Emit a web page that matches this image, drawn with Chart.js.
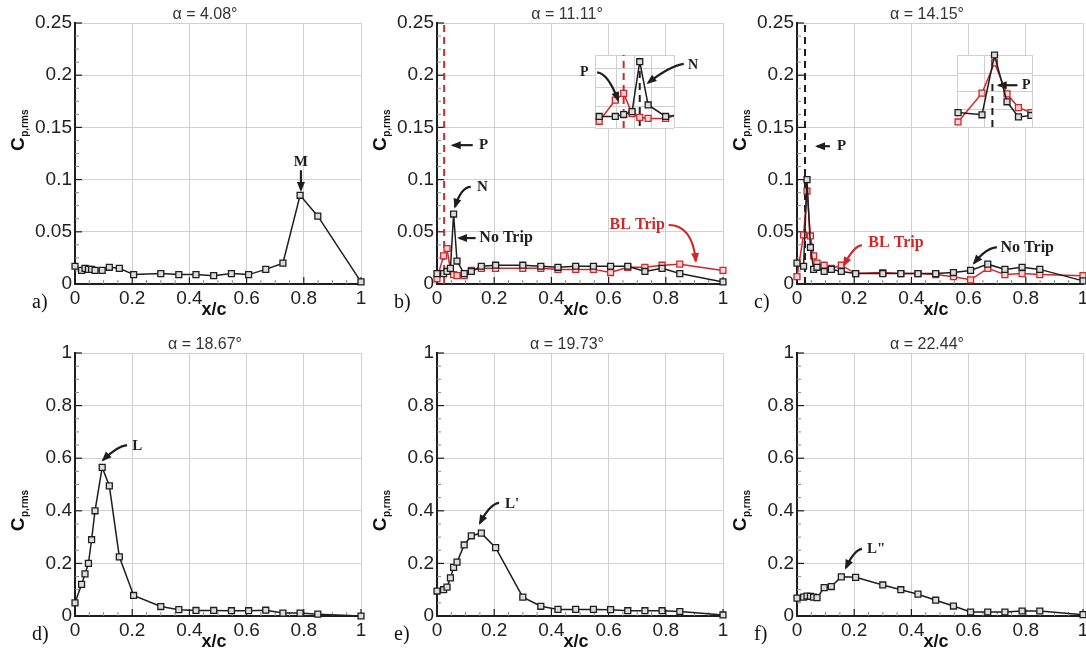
<!DOCTYPE html>
<html lang="en">
<head>
<meta charset="UTF-8">
<title>Cp,rms along the chord</title>
<script src="https://cdn.jsdelivr.net/npm/chart.js"></script>
<style>
  body { margin: 0; width: 1086px; height: 657px; overflow: hidden; background: #fff; position: relative; }
  canvas { position: absolute; }
</style>
</head>
<body>
<canvas id="pa"></canvas>
<canvas id="pb"></canvas>
<canvas id="pc"></canvas>
<canvas id="pd"></canvas>
<canvas id="pe"></canvas>
<canvas id="pf"></canvas>
<canvas id="ib"></canvas>
<canvas id="ic"></canvas>
<script>
// pressure tap positions x/c
const xTaps = [0, 0.023, 0.035, 0.047, 0.058, 0.07, 0.095, 0.12, 0.155, 0.205, 0.3, 0.363, 0.423, 0.485, 0.547, 0.607, 0.667, 0.727, 0.787, 0.849, 1.0];

// Cp,rms
const cpA       = [0.017, 0.013, 0.015, 0.014, 0.014, 0.013, 0.013, 0.016, 0.015, 0.009, 0.010, 0.009, 0.009, 0.008, 0.010, 0.009, 0.014, 0.020, 0.085, 0.065, 0.002];
const cpBNoTrip = [0.010, 0.010, 0.012, 0.015, 0.067, 0.022, 0.010, 0.012, 0.017, 0.018, 0.018, 0.017, 0.016, 0.017, 0.017, 0.017, 0.017, 0.012, 0.015, 0.010, 0.002];
const cpBTrip   = [0.005, 0.027, 0.034, 0.013, 0.009, 0.008, 0.008, 0.013, 0.015, 0.015, 0.015, 0.015, 0.014, 0.014, 0.014, 0.011, 0.016, 0.016, 0.018, 0.019, 0.013];
const cpCNoTrip = [0.020, 0.017, 0.100, 0.035, 0.014, 0.016, 0.012, 0.014, 0.012, 0.010, 0.010, 0.010, 0.010, 0.010, 0.011, 0.013, 0.019, 0.014, 0.016, 0.014, 0.003];
const cpCTrip   = [0.007, 0.047, 0.089, 0.046, 0.027, 0.020, 0.018, 0.015, 0.018, 0.010, 0.011, 0.010, 0.010, 0.009, 0.007, 0.004, 0.015, 0.009, 0.010, 0.009, 0.008];
const cpD       = [0.050, 0.120, 0.160, 0.200, 0.290, 0.400, 0.565, 0.495, 0.225, 0.078, 0.036, 0.024, 0.021, 0.021, 0.020, 0.020, 0.022, 0.011, 0.011, 0.007, 0.000];
const cpE       = [0.095, 0.100, 0.110, 0.145, 0.185, 0.205, 0.270, 0.305, 0.315, 0.260, 0.072, 0.037, 0.025, 0.025, 0.025, 0.024, 0.020, 0.020, 0.020, 0.017, 0.004];
const cpF       = [0.068, 0.072, 0.076, 0.075, 0.072, 0.070, 0.108, 0.112, 0.149, 0.147, 0.118, 0.100, 0.083, 0.060, 0.038, 0.015, 0.015, 0.015, 0.019, 0.019, 0.005];

const xTicks = [0, 0.2, 0.4, 0.6, 0.8, 1];
const yTicksTop = [0, 0.05, 0.1, 0.15, 0.2, 0.25];
const yTicksBottom = [0, 0.2, 0.4, 0.6, 0.8, 1];
const titles = ['α = 4.08°', 'α = 11.11°', 'α = 14.15°', 'α = 18.67°', 'α = 19.73°', 'α = 22.44°'];
const tags = ['a)', 'b)', 'c)', 'd)', 'e)', 'f)'];

const BLACK = '#1e1e1e';
const RED = '#d0282a';
const SANS = '"Liberation Sans", Arial, sans-serif';
const SERIF = '"Liberation Serif", "Times New Roman", serif';

const pts = ys => xTaps.map((x, i) => ({ x: x, y: ys[i] }));
const fmt = v => String(Math.round(v * 1000) / 1000);

function series(ys, color, fill) {
  return {
    data: pts(ys), borderColor: color, borderWidth: 1.5,
    pointStyle: 'rect', pointRadius: 4.2, pointBorderWidth: 1.3,
    pointBorderColor: color, pointBackgroundColor: fill, clip: 8
  };
}
function dashed(x, y0, y1, color) {
  return {
    data: [{ x: x, y: y0 }, { x: x, y: y1 }], borderColor: color, borderWidth: 2,
    borderDash: [7, 5], pointRadius: 0
  };
}

function arrow(ctx, p, color) {
  ctx.save();
  ctx.strokeStyle = color; ctx.fillStyle = color; ctx.lineWidth = 2.2;
  ctx.beginPath();
  ctx.moveTo(p[0][0], p[0][1]);
  if (p.length === 3) ctx.quadraticCurveTo(p[1][0], p[1][1], p[2][0], p[2][1]);
  else ctx.lineTo(p[1][0], p[1][1]);
  ctx.stroke();
  const a = p[p.length - 2], b = p[p.length - 1];
  const ang = Math.atan2(b[1] - a[1], b[0] - a[0]);
  const L = 8, W = 4;
  ctx.beginPath();
  ctx.moveTo(b[0] + 2 * Math.cos(ang), b[1] + 2 * Math.sin(ang));
  ctx.lineTo(b[0] - L * Math.cos(ang) + W * Math.sin(ang), b[1] - L * Math.sin(ang) - W * Math.cos(ang));
  ctx.lineTo(b[0] - L * Math.cos(ang) - W * Math.sin(ang), b[1] - L * Math.sin(ang) + W * Math.cos(ang));
  ctx.closePath();
  ctx.fill();
  ctx.restore();
}

function drawNotes(chart, notes) {
  const ctx = chart.ctx, xs = chart.scales.x, ys = chart.scales.y;
  const px = p => [xs.getPixelForValue(p[0]), ys.getPixelForValue(p[1])];
  notes.forEach(n => {
    if (n.path) arrow(ctx, n.path.map(px), n.color || BLACK);
    ctx.save();
    ctx.fillStyle = n.color || BLACK;
    ctx.font = 'bold ' + (n.size || 15) + 'px ' + SERIF;
    ctx.textAlign = n.align || 'left';
    ctx.textBaseline = 'middle';
    const p = px(n.at);
    ctx.fillText(n.text, p[0], p[1]);
    ctx.restore();
  });
}

function decoPlugin(cfg) {
  return {
    id: 'deco',
    beforeDatasetsDraw(chart) {
      const ctx = chart.ctx, a = chart.chartArea, xs = chart.scales.x, ys = chart.scales.y;
      ctx.save();
      const yt = cfg.yTicks;
      for (let i = 0; i < yt.length; i++) {
        const y = ys.getPixelForValue(yt[i]);
        ctx.strokeStyle = BLACK; ctx.lineWidth = 1.2;
        ctx.beginPath(); ctx.moveTo(a.left, y); ctx.lineTo(a.left + 7, y); ctx.stroke();
        if (i < yt.length - 1) {
          ctx.strokeStyle = '#8a8a8a'; ctx.lineWidth = 1;
          for (let k = 1; k < 4; k++) {
            const ym = ys.getPixelForValue(yt[i] + (yt[i + 1] - yt[i]) * k / 4);
            ctx.beginPath(); ctx.moveTo(a.left, ym); ctx.lineTo(a.left + 4, ym); ctx.stroke();
          }
        }
      }
      for (let i = 0; i < xTicks.length; i++) {
        const x = xs.getPixelForValue(xTicks[i]);
        ctx.strokeStyle = BLACK; ctx.lineWidth = 1.2;
        ctx.beginPath(); ctx.moveTo(x, a.bottom); ctx.lineTo(x, a.bottom - 7); ctx.stroke();
        if (i < xTicks.length - 1) {
          ctx.strokeStyle = '#8a8a8a'; ctx.lineWidth = 1;
          for (let k = 1; k < 4; k++) {
            const xm = xs.getPixelForValue(xTicks[i] + (xTicks[i + 1] - xTicks[i]) * k / 4);
            ctx.beginPath(); ctx.moveTo(xm, a.bottom); ctx.lineTo(xm, a.bottom - 4); ctx.stroke();
          }
        }
      }
      ctx.restore();
    },
    afterDraw(chart) {
      const ctx = chart.ctx, a = chart.chartArea, ys = chart.scales.y;
      const cx = (a.left + a.right) / 2;
      ctx.save();
      // title
      ctx.fillStyle = '#333';
      ctx.font = '16px ' + SANS;
      ctx.textAlign = 'center'; ctx.textBaseline = 'middle';
      ctx.fillText(cfg.title, cx - 13, a.top - 8);
      // x title
      ctx.fillStyle = '#111';
      ctx.font = 'bold 18px ' + SANS;
      ctx.fillText('x/c', cx - 4, a.bottom + 26);
      // panel tag
      ctx.font = '20px ' + SERIF;
      ctx.textAlign = 'left';
      ctx.fillText(cfg.tag, a.left - 43, a.bottom + 19);
      // y title C_p,rms
      ctx.translate(a.left - 57, ys.getPixelForValue(cfg.yTitleAt));
      ctx.rotate(-Math.PI / 2);
      ctx.font = 'bold 19px ' + SANS;
      const wC = ctx.measureText('C').width;
      ctx.font = 'bold 10px ' + SANS;
      const wS = ctx.measureText('p,rms').width;
      const x0 = -(wC + wS) / 2;
      ctx.textAlign = 'left'; ctx.textBaseline = 'alphabetic';
      ctx.font = 'bold 19px ' + SANS;
      ctx.fillText('C', x0, 6);
      ctx.font = 'bold 10px ' + SANS;
      ctx.fillText('p,rms', x0 + wC + 0.5, 10);
      ctx.restore();
      drawNotes(chart, cfg.notes);
    }
  };
}

function tickFont() { return { family: SANS, size: 19 }; }

function makePanel(id, cfg) {
  const cv = document.getElementById(id);
  const plotH = cfg.bottom - cfg.top;
  cv.width = 75 + (cfg.right - cfg.left) + 12;
  cv.height = 23 + plotH + 40;
  cv.style.left = (cfg.left - 75) + 'px';
  cv.style.top = (cfg.top - 23) + 'px';
  const yMax = cfg.yTicks[cfg.yTicks.length - 1];
  return new Chart(cv, {
    type: 'line',
    data: { datasets: cfg.datasets },
    options: {
      responsive: false, animation: false, devicePixelRatio: 1,
      layout: { padding: { left: 0, top: 23, right: 12, bottom: 0 } },
      plugins: { legend: { display: false }, tooltip: { enabled: false } },
      scales: {
        x: {
          type: 'linear', min: 0, max: 1,
          afterBuildTicks: s => { s.ticks = xTicks.map(v => ({ value: v })); },
          afterFit: s => { s.height = 40; },
          grid: { color: '#d0d0d0', lineWidth: 1, drawTicks: false },
          border: { color: BLACK, width: 2 },
          ticks: { padding: 3, color: '#222', font: tickFont(), maxRotation: 0, autoSkip: false, callback: v => fmt(v) }
        },
        y: {
          type: 'linear', min: 0, max: yMax,
          afterBuildTicks: s => { s.ticks = cfg.yTicks.map(v => ({ value: v })); },
          afterFit: s => { s.width = 75; },
          grid: { color: '#d0d0d0', lineWidth: 1, drawTicks: false },
          border: { color: BLACK, width: 2 },
          ticks: { padding: 3, color: '#222', font: tickFont(), autoSkip: false, callback: v => fmt(v) }
        }
      }
    },
    plugins: [decoPlugin(cfg)]
  });
}

function makeInset(id, cfg) {
  const cv = document.getElementById(id);
  cv.width = cfg.canvas[2]; cv.height = cfg.canvas[3];
  cv.style.left = cfg.canvas[0] + 'px';
  cv.style.top = cfg.canvas[1] + 'px';
  return new Chart(cv, {
    type: 'line',
    data: { datasets: cfg.datasets },
    options: {
      responsive: false, animation: false, devicePixelRatio: 1,
      layout: { padding: cfg.pad },
      plugins: { legend: { display: false }, tooltip: { enabled: false } },
      scales: {
        x: {
          type: 'linear', min: cfg.xr[0], max: cfg.xr[1],
          afterFit: s => { s.height = 0; },
          grid: { color: '#cfcfcf', lineWidth: 1, drawTicks: false },
          border: { display: false },
          ticks: { display: false, stepSize: cfg.xStep }
        },
        y: {
          type: 'linear', min: cfg.yr[0], max: cfg.yr[1],
          afterFit: s => { s.width = 0; },
          grid: { color: '#cfcfcf', lineWidth: 1, drawTicks: false },
          border: { display: false },
          ticks: { display: false, stepSize: cfg.yStep }
        }
      }
    },
    plugins: [{
      id: 'insetDeco',
      beforeDraw(chart) {
        const a = chart.chartArea;
        chart.ctx.save();
        chart.ctx.fillStyle = '#fff';
        chart.ctx.fillRect(a.left, a.top, a.right - a.left, a.bottom - a.top);
        chart.ctx.restore();
      },
      afterDraw(chart) { drawNotes(chart, cfg.notes); }
    }]
  });
}

const ptFillK = '#dcdcdc';
const ptFillR = '#f3d6d6';
const insetClip = { left: 5, top: 6, right: 0, bottom: 5 };

makePanel('pa', {
  left: 75, top: 23, right: 361, bottom: 284, yTicks: yTicksTop, yTitleAt: 0.147,
  title: titles[0], tag: tags[0],
  datasets: [series(cpA, BLACK, ptFillK)],
  notes: [{ text: 'M', at: [0.79, 0.117], align: 'center', path: [[0.79, 0.109], [0.79, 0.09]] }]
});

makePanel('pb', {
  left: 437, top: 23, right: 723, bottom: 284, yTicks: yTicksTop, yTitleAt: 0.147,
  title: titles[1], tag: tags[1],
  datasets: [series(cpBNoTrip, BLACK, ptFillK), series(cpBTrip, RED, ptFillR), dashed(0.025, 0, 0.25, RED)],
  notes: [
    { text: 'P', at: [0.147, 0.133], path: [[0.125, 0.133], [0.055, 0.133]] },
    { text: 'N', at: [0.14, 0.093], path: [[0.118, 0.093], [0.085, 0.093], [0.063, 0.074]] },
    { text: 'No Trip', at: [0.148, 0.044], size: 16, path: [[0.135, 0.044], [0.077, 0.044]] },
    { text: 'BL Trip', at: [0.70, 0.0565], align: 'center', size: 16, color: RED, path: [[0.81, 0.0565], [0.893, 0.0565], [0.905, 0.022]] }
  ]
});

makePanel('pc', {
  left: 797, top: 23, right: 1083, bottom: 284, yTicks: yTicksTop, yTitleAt: 0.147,
  title: titles[2], tag: tags[2],
  datasets: [series(cpCNoTrip, BLACK, ptFillK), series(cpCTrip, RED, ptFillR), dashed(0.028, 0, 0.25, BLACK)],
  notes: [
    { text: 'P', at: [0.14, 0.132], path: [[0.115, 0.132], [0.07, 0.132]] },
    { text: 'BL Trip', at: [0.346, 0.039], align: 'center', size: 16, color: RED, path: [[0.227, 0.037], [0.2, 0.037], [0.164, 0.018]] },
    { text: 'No Trip', at: [0.805, 0.035], align: 'center', size: 16, path: [[0.699, 0.035], [0.664, 0.035], [0.619, 0.02]] }
  ]
});

makePanel('pd', {
  left: 75, top: 353, right: 361, bottom: 616, yTicks: yTicksBottom, yTitleAt: 0.4,
  title: titles[3], tag: tags[3],
  datasets: [series(cpD, BLACK, ptFillK)],
  notes: [{ text: 'L', at: [0.2, 0.646], path: [[0.182, 0.65], [0.147, 0.646], [0.098, 0.593]] }]
});

makePanel('pe', {
  left: 437, top: 353, right: 723, bottom: 616, yTicks: yTicksBottom, yTitleAt: 0.4,
  title: titles[4], tag: tags[4],
  datasets: [series(cpE, BLACK, ptFillK)],
  notes: [{ text: "L'", at: [0.238, 0.426], path: [[0.217, 0.43], [0.185, 0.426], [0.15, 0.353]] }]
});

makePanel('pf', {
  left: 797, top: 353, right: 1083, bottom: 616, yTicks: yTicksBottom, yTitleAt: 0.4,
  title: titles[5], tag: tags[5],
  datasets: [series(cpF, BLACK, ptFillK)],
  notes: [{ text: 'L"', at: [0.245, 0.253], path: [[0.227, 0.255], [0.2, 0.251], [0.171, 0.183]] }]
});

// leading-edge close-ups
const insetB = series(cpBNoTrip, BLACK, ptFillK); insetB.clip = insetClip;
const insetBR = series(cpBTrip, RED, ptFillR); insetBR.clip = insetClip;
makeInset('ib', {
  canvas: [570, 45, 140, 90], pad: { left: 25, top: 10, right: 36, bottom: 7 },
  xr: [-0.006, 0.107], yr: [-0.002, 0.074], xStep: 0.025, yStep: 0.02,
  datasets: [insetB, insetBR, dashed(0.058, 0, 0.066, BLACK), dashed(0.035, -0.002, 0.074, RED)],
  notes: [
    { text: 'P', at: [-0.0215, 0.056], size: 14, align: 'center', path: [[-0.003, 0.056], [0.0127, 0.055], [0.027, 0.027]] },
    { text: 'N', at: [0.127, 0.0636], size: 14, path: [[0.121, 0.0647], [0.101, 0.0625], [0.07, 0.045]] }
  ]
});

const insetC = series(cpCNoTrip, BLACK, ptFillK); insetC.clip = insetClip;
const insetCR = series(cpCTrip, RED, ptFillR); insetCR.clip = insetClip;
makeInset('ic', {
  canvas: [940, 45, 105, 90], pad: { left: 17, top: 10, right: 13, bottom: 8 },
  xr: [-0.001, 0.071], yr: [0, 0.1], xStep: 0.025, yStep: 0.025,
  datasets: [insetC, insetCR, dashed(0.033, 0, 0.065, BLACK)],
  notes: [{ text: 'P', at: [0.0614, 0.058], size: 14, path: [[0.057, 0.058], [0.039, 0.058]] }]
});
</script>
</body>
</html>
